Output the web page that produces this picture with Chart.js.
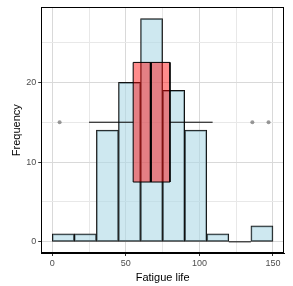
<!DOCTYPE html>
<html>
<head>
<meta charset="utf-8">
<script src="https://cdn.jsdelivr.net/npm/chart.js@4"></script>
<style>
  html, body { margin: 0; padding: 0; background: #fff; }
  #wrap { width: 293px; height: 286px; }
</style>
</head>
<body>
<div id="wrap"><canvas id="chartCanvas"></canvas></div>
<script>
// histogram bins (width 15)
const binEdges = [0, 15, 30, 45, 60, 75, 90, 105, 120, 135, 150];
const counts = [1, 1, 14, 20, 28, 19, 14, 1, 0, 2];

// boxplot of the same sample, drawn at height 15
const boxLevel = 15;
const boxBottom = 7.5;
const boxTop = 22.5;
const q1 = 55;
const median = 67;
const q3 = 80;
const whiskerLow = 25;
const whiskerHigh = 109;
const outliers = [5, 136, 147];

const xTicks = [0, 25, 50, 75, 100, 125, 150];
const yTicks = [0, 5, 10, 15, 20, 25];

let bars = [];
for (let i = 0; i < counts.length; i++) {
    bars.push({ x: (binEdges[i] + binEdges[i + 1]) / 2, y: counts[i] });
}

// baseline for empty bins
let emptyBins = [];
counts.forEach((c, i) => {
    if (c === 0) {
        emptyBins.push({ x: binEdges[i], y: 0 }, { x: binEdges[i + 1], y: 0 });
    }
});

let boxShape = [
    { x: q1, y: boxBottom }, { x: q1, y: boxTop },
    { x: q3, y: boxTop }, { x: q3, y: boxBottom }, { x: q1, y: boxBottom }
];

let whiskers = [
    { x: whiskerLow, y: boxLevel }, { x: q1, y: boxLevel },
    { x: (q1 + q3) / 2, y: null },
    { x: q3, y: boxLevel }, { x: whiskerHigh, y: boxLevel }
];

let medianLine = [{ x: median, y: boxBottom }, { x: median, y: boxTop }];
let outlierPts = outliers.map(v => ({ x: v, y: boxLevel }));

const panelBorder = {
    id: 'panelBorder',
    afterDraw(chart) {
        const a = chart.chartArea;
        const c = chart.ctx;
        c.save();
        c.strokeStyle = '#000';
        c.lineWidth = 1;
        c.strokeRect(Math.round(a.left) + 0.5, Math.round(a.top) + 0.5,
            Math.round(a.right - a.left) - 1, Math.round(a.bottom - a.top) - 1);
        c.restore();
    }
};

Chart.defaults.font.family = "'Liberation Sans', Arial, sans-serif";

let ctx = document.querySelector('#chartCanvas');

let graph = new Chart(ctx, {
    type: 'bar',
    data: {
        datasets: [
            {
                type: 'scatter',
                data: outlierPts,
                pointRadius: 2,
                pointBackgroundColor: 'rgba(110,110,110,0.7)',
                pointBorderWidth: 0,
                order: 1
            },
            {
                type: 'line',
                data: medianLine,
                borderColor: '#000',
                borderWidth: 2.2,
                pointRadius: 0,
                order: 2
            },
            {
                type: 'line',
                data: whiskers,
                borderColor: '#000',
                borderWidth: 1,
                pointRadius: 0,
                spanGaps: false,
                order: 3
            },
            {
                type: 'line',
                data: boxShape,
                borderColor: '#000',
                borderWidth: 1,
                backgroundColor: 'rgba(255,0,0,0.45)',
                fill: 'shape',
                pointRadius: 0,
                order: 4
            },
            {
                type: 'line',
                data: emptyBins,
                borderColor: '#000',
                borderWidth: 1,
                pointRadius: 0,
                order: 5
            },
            {
                type: 'bar',
                data: bars,
                backgroundColor: 'rgba(173,216,230,0.6)',
                borderColor: '#111',
                borderWidth: 1,
                borderSkipped: false,
                barPercentage: 1,
                categoryPercentage: 1,
                order: 10
            }
        ]
    },
    options: {
        responsive: true,
        maintainAspectRatio: false,
        animation: false,
        layout: { padding: { top: 7, right: 9, bottom: 1, left: 10 } },
        plugins: {
            legend: { display: false },
            tooltip: { enabled: false }
        },
        scales: {
            x: {
                type: 'linear',
                min: -7.5,
                max: 157.5,
                offset: false,
                afterBuildTicks: s => { s.ticks = xTicks.map(v => ({ value: v })); },
                grid: {
                    offset: false,
                    color: c => (c.tick && c.tick.value % 50 === 0) ? '#d9d9d9' : '#e8e8e8',
                    lineWidth: 1,
                    tickLength: 3,
                    tickColor: c => (c.tick && c.tick.value % 50 === 0) ? '#333' : 'rgba(0,0,0,0)'
                },
                border: { color: '#000', width: 1 },
                ticks: {
                    color: '#4d4d4d',
                    font: { size: 9 },
                    padding: 2,
                    maxRotation: 0,
                    callback: v => (v % 50 === 0 ? v : '')
                },
                title: {
                    display: true,
                    text: 'Fatigue life',
                    color: '#000',
                    font: { size: 11 },
                    padding: { top: 1, bottom: 0 }
                }
            },
            y: {
                type: 'linear',
                min: -1.4,
                max: 29.4,
                afterBuildTicks: s => { s.ticks = yTicks.map(v => ({ value: v })); },
                grid: {
                    color: c => (c.tick && c.tick.value % 10 === 0) ? '#d9d9d9' : '#e8e8e8',
                    lineWidth: 1,
                    tickLength: 3,
                    tickColor: c => (c.tick && c.tick.value % 10 === 0) ? '#333' : 'rgba(0,0,0,0)'
                },
                border: { color: '#000', width: 1 },
                ticks: {
                    color: '#4d4d4d',
                    font: { size: 9 },
                    padding: 2,
                    callback: v => (v % 10 === 0 ? v : '')
                },
                title: {
                    display: true,
                    text: 'Frequency',
                    color: '#000',
                    font: { size: 11 },
                    padding: { top: 0, bottom: 1 }
                }
            }
        }
    },
    plugins: [panelBorder]
});
</script>
</body>
</html>
